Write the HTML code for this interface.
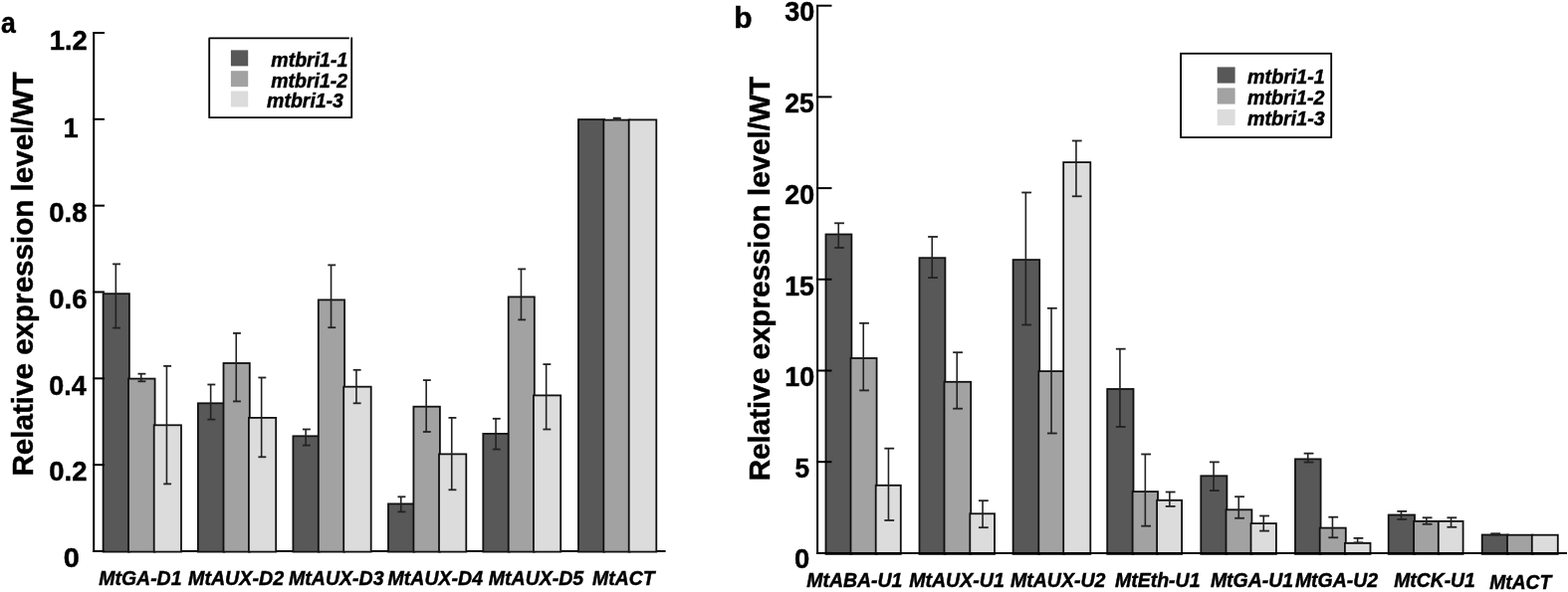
<!DOCTYPE html>
<html><head><meta charset="utf-8"><title>Relative expression level</title>
<style>
html,body{margin:0;padding:0;background:#fff;}
body{width:1575px;height:595px;overflow:hidden;}
svg{display:block;}
text{font-family:"Liberation Sans",Arial,sans-serif;fill:#000;stroke:#000;stroke-width:0.45px;}
.b{font-weight:bold;}
.bi{font-weight:bold;font-style:italic;}
</style></head><body>
<svg width="1575" height="595" viewBox="0 0 1575 595">
<rect x="0" y="0" width="1575" height="595" fill="#fff"/>
<line x1="94.20" y1="33.00" x2="94.20" y2="555.00" stroke="#000" stroke-width="2"/>
<line x1="93.20" y1="554.00" x2="668.60" y2="554.00" stroke="#000" stroke-width="2"/>
<rect x="103.60" y="295.20" width="26.30" height="259.40" fill="#585858" stroke="#111" stroke-width="1.8"/>
<rect x="129.00" y="380.60" width="26.60" height="174.00" fill="#a2a2a2" stroke="#111" stroke-width="1.8"/>
<rect x="154.70" y="427.30" width="27.30" height="127.30" fill="#dcdcdc" stroke="#111" stroke-width="1.8"/>
<line x1="116.35" y1="265.40" x2="116.35" y2="329.60" stroke="#222" stroke-width="1.6"/>
<line x1="113.10" y1="265.40" x2="121.00" y2="265.40" stroke="#222" stroke-width="1.8"/>
<line x1="113.10" y1="329.60" x2="121.00" y2="329.60" stroke="#222" stroke-width="1.8"/>
<line x1="141.75" y1="375.70" x2="141.75" y2="383.30" stroke="#222" stroke-width="1.6"/>
<line x1="138.50" y1="375.70" x2="146.40" y2="375.70" stroke="#222" stroke-width="1.8"/>
<line x1="138.50" y1="383.30" x2="146.40" y2="383.30" stroke="#222" stroke-width="1.8"/>
<line x1="167.45" y1="367.90" x2="167.45" y2="486.40" stroke="#222" stroke-width="1.6"/>
<line x1="164.20" y1="367.90" x2="172.10" y2="367.90" stroke="#222" stroke-width="1.8"/>
<line x1="164.20" y1="486.40" x2="172.10" y2="486.40" stroke="#222" stroke-width="1.8"/>
<rect x="198.90" y="405.30" width="26.50" height="149.30" fill="#585858" stroke="#111" stroke-width="1.8"/>
<rect x="224.50" y="365.00" width="26.30" height="189.60" fill="#a2a2a2" stroke="#111" stroke-width="1.8"/>
<rect x="249.90" y="419.90" width="27.30" height="134.70" fill="#dcdcdc" stroke="#111" stroke-width="1.8"/>
<line x1="211.65" y1="386.50" x2="211.65" y2="421.60" stroke="#222" stroke-width="1.6"/>
<line x1="208.40" y1="386.50" x2="216.30" y2="386.50" stroke="#222" stroke-width="1.8"/>
<line x1="208.40" y1="421.60" x2="216.30" y2="421.60" stroke="#222" stroke-width="1.8"/>
<line x1="237.25" y1="334.90" x2="237.25" y2="403.40" stroke="#222" stroke-width="1.6"/>
<line x1="234.00" y1="334.90" x2="241.90" y2="334.90" stroke="#222" stroke-width="1.8"/>
<line x1="234.00" y1="403.40" x2="241.90" y2="403.40" stroke="#222" stroke-width="1.8"/>
<line x1="262.65" y1="379.50" x2="262.65" y2="459.30" stroke="#222" stroke-width="1.6"/>
<line x1="259.40" y1="379.50" x2="267.30" y2="379.50" stroke="#222" stroke-width="1.8"/>
<line x1="259.40" y1="459.30" x2="267.30" y2="459.30" stroke="#222" stroke-width="1.8"/>
<rect x="294.40" y="438.30" width="26.30" height="116.30" fill="#585858" stroke="#111" stroke-width="1.8"/>
<rect x="319.80" y="301.40" width="26.30" height="253.20" fill="#a2a2a2" stroke="#111" stroke-width="1.8"/>
<rect x="345.20" y="388.70" width="27.50" height="165.90" fill="#dcdcdc" stroke="#111" stroke-width="1.8"/>
<line x1="307.15" y1="431.50" x2="307.15" y2="447.60" stroke="#222" stroke-width="1.6"/>
<line x1="303.90" y1="431.50" x2="311.80" y2="431.50" stroke="#222" stroke-width="1.8"/>
<line x1="303.90" y1="447.60" x2="311.80" y2="447.60" stroke="#222" stroke-width="1.8"/>
<line x1="332.55" y1="266.40" x2="332.55" y2="329.20" stroke="#222" stroke-width="1.6"/>
<line x1="329.30" y1="266.40" x2="337.20" y2="266.40" stroke="#222" stroke-width="1.8"/>
<line x1="329.30" y1="329.20" x2="337.20" y2="329.20" stroke="#222" stroke-width="1.8"/>
<line x1="357.95" y1="371.80" x2="357.95" y2="405.30" stroke="#222" stroke-width="1.6"/>
<line x1="354.70" y1="371.80" x2="362.60" y2="371.80" stroke="#222" stroke-width="1.8"/>
<line x1="354.70" y1="405.30" x2="362.60" y2="405.30" stroke="#222" stroke-width="1.8"/>
<rect x="390.00" y="506.40" width="26.30" height="48.20" fill="#585858" stroke="#111" stroke-width="1.8"/>
<rect x="415.40" y="408.70" width="26.50" height="145.90" fill="#a2a2a2" stroke="#111" stroke-width="1.8"/>
<rect x="441.00" y="456.40" width="27.30" height="98.20" fill="#dcdcdc" stroke="#111" stroke-width="1.8"/>
<line x1="402.75" y1="499.30" x2="402.75" y2="514.40" stroke="#222" stroke-width="1.6"/>
<line x1="399.50" y1="499.30" x2="407.40" y2="499.30" stroke="#222" stroke-width="1.8"/>
<line x1="399.50" y1="514.40" x2="407.40" y2="514.40" stroke="#222" stroke-width="1.8"/>
<line x1="428.15" y1="382.10" x2="428.15" y2="434.00" stroke="#222" stroke-width="1.6"/>
<line x1="424.90" y1="382.10" x2="432.80" y2="382.10" stroke="#222" stroke-width="1.8"/>
<line x1="424.90" y1="434.00" x2="432.80" y2="434.00" stroke="#222" stroke-width="1.8"/>
<line x1="453.75" y1="419.90" x2="453.75" y2="492.30" stroke="#222" stroke-width="1.6"/>
<line x1="450.50" y1="419.90" x2="458.40" y2="419.90" stroke="#222" stroke-width="1.8"/>
<line x1="450.50" y1="492.30" x2="458.40" y2="492.30" stroke="#222" stroke-width="1.8"/>
<rect x="485.30" y="435.90" width="26.30" height="118.70" fill="#585858" stroke="#111" stroke-width="1.8"/>
<rect x="510.70" y="298.40" width="26.10" height="256.20" fill="#a2a2a2" stroke="#111" stroke-width="1.8"/>
<rect x="535.90" y="397.40" width="27.30" height="157.20" fill="#dcdcdc" stroke="#111" stroke-width="1.8"/>
<line x1="498.05" y1="420.80" x2="498.05" y2="451.60" stroke="#222" stroke-width="1.6"/>
<line x1="494.80" y1="420.80" x2="502.70" y2="420.80" stroke="#222" stroke-width="1.8"/>
<line x1="494.80" y1="451.60" x2="502.70" y2="451.60" stroke="#222" stroke-width="1.8"/>
<line x1="523.45" y1="270.40" x2="523.45" y2="321.40" stroke="#222" stroke-width="1.6"/>
<line x1="520.20" y1="270.40" x2="528.10" y2="270.40" stroke="#222" stroke-width="1.8"/>
<line x1="520.20" y1="321.40" x2="528.10" y2="321.40" stroke="#222" stroke-width="1.8"/>
<line x1="548.65" y1="366.10" x2="548.65" y2="431.50" stroke="#222" stroke-width="1.6"/>
<line x1="545.40" y1="366.10" x2="553.30" y2="366.10" stroke="#222" stroke-width="1.8"/>
<line x1="545.40" y1="431.50" x2="553.30" y2="431.50" stroke="#222" stroke-width="1.8"/>
<rect x="581.00" y="120.10" width="26.20" height="434.50" fill="#585858" stroke="#111" stroke-width="1.8"/>
<rect x="606.30" y="120.60" width="26.30" height="434.00" fill="#a2a2a2" stroke="#111" stroke-width="1.8"/>
<rect x="631.70" y="120.40" width="27.60" height="434.20" fill="#dcdcdc" stroke="#111" stroke-width="1.8"/>
<line x1="619.05" y1="118.70" x2="619.05" y2="120.10" stroke="#222" stroke-width="1.6"/>
<line x1="615.80" y1="118.70" x2="623.70" y2="118.70" stroke="#222" stroke-width="1.8"/>
<line x1="615.80" y1="120.10" x2="623.70" y2="120.10" stroke="#222" stroke-width="1.8"/>
<line x1="93.20" y1="554.00" x2="105.00" y2="554.00" stroke="#000" stroke-width="2"/>
<line x1="93.20" y1="467.17" x2="105.00" y2="467.17" stroke="#000" stroke-width="2"/>
<line x1="93.20" y1="380.33" x2="105.00" y2="380.33" stroke="#000" stroke-width="2"/>
<line x1="93.20" y1="293.50" x2="105.00" y2="293.50" stroke="#000" stroke-width="2"/>
<line x1="93.20" y1="206.67" x2="105.00" y2="206.67" stroke="#000" stroke-width="2"/>
<line x1="93.20" y1="119.83" x2="105.00" y2="119.83" stroke="#000" stroke-width="2"/>
<line x1="93.20" y1="33.00" x2="105.00" y2="33.00" stroke="#000" stroke-width="2"/>
<line x1="821.10" y1="5.60" x2="821.10" y2="556.90" stroke="#000" stroke-width="2"/>
<rect x="829.50" y="235.50" width="25.90" height="321.40" fill="#585858" stroke="#111" stroke-width="1.8"/>
<rect x="854.50" y="360.00" width="26.10" height="196.90" fill="#a2a2a2" stroke="#111" stroke-width="1.8"/>
<rect x="879.70" y="487.80" width="25.10" height="69.10" fill="#dcdcdc" stroke="#111" stroke-width="1.8"/>
<line x1="842.25" y1="224.30" x2="842.25" y2="249.00" stroke="#222" stroke-width="1.6"/>
<line x1="838.15" y1="224.30" x2="847.95" y2="224.30" stroke="#222" stroke-width="1.8"/>
<line x1="838.15" y1="249.00" x2="847.95" y2="249.00" stroke="#222" stroke-width="1.8"/>
<line x1="867.25" y1="324.80" x2="867.25" y2="392.40" stroke="#222" stroke-width="1.6"/>
<line x1="863.15" y1="324.80" x2="872.95" y2="324.80" stroke="#222" stroke-width="1.8"/>
<line x1="863.15" y1="392.40" x2="872.95" y2="392.40" stroke="#222" stroke-width="1.8"/>
<line x1="892.45" y1="450.70" x2="892.45" y2="523.00" stroke="#222" stroke-width="1.6"/>
<line x1="888.35" y1="450.70" x2="898.15" y2="450.70" stroke="#222" stroke-width="1.8"/>
<line x1="888.35" y1="523.00" x2="898.15" y2="523.00" stroke="#222" stroke-width="1.8"/>
<rect x="923.50" y="259.20" width="25.90" height="297.70" fill="#585858" stroke="#111" stroke-width="1.8"/>
<rect x="948.50" y="383.80" width="26.70" height="173.10" fill="#a2a2a2" stroke="#111" stroke-width="1.8"/>
<rect x="974.30" y="516.30" width="24.70" height="40.60" fill="#dcdcdc" stroke="#111" stroke-width="1.8"/>
<line x1="936.25" y1="238.00" x2="936.25" y2="279.10" stroke="#222" stroke-width="1.6"/>
<line x1="932.15" y1="238.00" x2="941.95" y2="238.00" stroke="#222" stroke-width="1.8"/>
<line x1="932.15" y1="279.10" x2="941.95" y2="279.10" stroke="#222" stroke-width="1.8"/>
<line x1="961.25" y1="354.20" x2="961.25" y2="410.70" stroke="#222" stroke-width="1.6"/>
<line x1="957.15" y1="354.20" x2="966.95" y2="354.20" stroke="#222" stroke-width="1.8"/>
<line x1="957.15" y1="410.70" x2="966.95" y2="410.70" stroke="#222" stroke-width="1.8"/>
<line x1="987.05" y1="503.20" x2="987.05" y2="530.20" stroke="#222" stroke-width="1.6"/>
<line x1="982.95" y1="503.20" x2="992.75" y2="503.20" stroke="#222" stroke-width="1.8"/>
<line x1="982.95" y1="530.20" x2="992.75" y2="530.20" stroke="#222" stroke-width="1.8"/>
<rect x="1017.60" y="261.10" width="26.60" height="295.80" fill="#585858" stroke="#111" stroke-width="1.8"/>
<rect x="1043.30" y="373.10" width="25.80" height="183.80" fill="#a2a2a2" stroke="#111" stroke-width="1.8"/>
<rect x="1068.20" y="163.10" width="27.10" height="393.80" fill="#dcdcdc" stroke="#111" stroke-width="1.8"/>
<line x1="1030.35" y1="193.50" x2="1030.35" y2="326.50" stroke="#222" stroke-width="1.6"/>
<line x1="1026.25" y1="193.50" x2="1036.05" y2="193.50" stroke="#222" stroke-width="1.8"/>
<line x1="1026.25" y1="326.50" x2="1036.05" y2="326.50" stroke="#222" stroke-width="1.8"/>
<line x1="1056.05" y1="309.80" x2="1056.05" y2="435.50" stroke="#222" stroke-width="1.6"/>
<line x1="1051.95" y1="309.80" x2="1061.75" y2="309.80" stroke="#222" stroke-width="1.8"/>
<line x1="1051.95" y1="435.50" x2="1061.75" y2="435.50" stroke="#222" stroke-width="1.8"/>
<line x1="1080.95" y1="141.50" x2="1080.95" y2="197.30" stroke="#222" stroke-width="1.6"/>
<line x1="1076.85" y1="141.50" x2="1086.65" y2="141.50" stroke="#222" stroke-width="1.8"/>
<line x1="1076.85" y1="197.30" x2="1086.65" y2="197.30" stroke="#222" stroke-width="1.8"/>
<rect x="1112.20" y="391.00" width="26.30" height="165.90" fill="#585858" stroke="#111" stroke-width="1.8"/>
<rect x="1137.60" y="494.10" width="25.40" height="62.80" fill="#a2a2a2" stroke="#111" stroke-width="1.8"/>
<rect x="1162.10" y="502.80" width="25.00" height="54.10" fill="#dcdcdc" stroke="#111" stroke-width="1.8"/>
<line x1="1124.95" y1="350.70" x2="1124.95" y2="429.00" stroke="#222" stroke-width="1.6"/>
<line x1="1120.85" y1="350.70" x2="1130.65" y2="350.70" stroke="#222" stroke-width="1.8"/>
<line x1="1120.85" y1="429.00" x2="1130.65" y2="429.00" stroke="#222" stroke-width="1.8"/>
<line x1="1150.35" y1="456.50" x2="1150.35" y2="528.70" stroke="#222" stroke-width="1.6"/>
<line x1="1146.25" y1="456.50" x2="1156.05" y2="456.50" stroke="#222" stroke-width="1.8"/>
<line x1="1146.25" y1="528.70" x2="1156.05" y2="528.70" stroke="#222" stroke-width="1.8"/>
<line x1="1174.85" y1="494.50" x2="1174.85" y2="508.90" stroke="#222" stroke-width="1.6"/>
<line x1="1170.75" y1="494.50" x2="1180.55" y2="494.50" stroke="#222" stroke-width="1.8"/>
<line x1="1170.75" y1="508.90" x2="1180.55" y2="508.90" stroke="#222" stroke-width="1.8"/>
<rect x="1206.30" y="478.30" width="26.10" height="78.60" fill="#585858" stroke="#111" stroke-width="1.8"/>
<rect x="1231.50" y="512.30" width="25.90" height="44.60" fill="#a2a2a2" stroke="#111" stroke-width="1.8"/>
<rect x="1256.50" y="526.10" width="25.40" height="30.80" fill="#dcdcdc" stroke="#111" stroke-width="1.8"/>
<line x1="1219.05" y1="464.40" x2="1219.05" y2="493.10" stroke="#222" stroke-width="1.6"/>
<line x1="1214.95" y1="464.40" x2="1224.75" y2="464.40" stroke="#222" stroke-width="1.8"/>
<line x1="1214.95" y1="493.10" x2="1224.75" y2="493.10" stroke="#222" stroke-width="1.8"/>
<line x1="1244.25" y1="499.20" x2="1244.25" y2="520.80" stroke="#222" stroke-width="1.6"/>
<line x1="1240.15" y1="499.20" x2="1249.95" y2="499.20" stroke="#222" stroke-width="1.8"/>
<line x1="1240.15" y1="520.80" x2="1249.95" y2="520.80" stroke="#222" stroke-width="1.8"/>
<line x1="1269.25" y1="518.50" x2="1269.25" y2="533.60" stroke="#222" stroke-width="1.6"/>
<line x1="1265.15" y1="518.50" x2="1274.95" y2="518.50" stroke="#222" stroke-width="1.8"/>
<line x1="1265.15" y1="533.60" x2="1274.95" y2="533.60" stroke="#222" stroke-width="1.8"/>
<rect x="1301.00" y="461.40" width="25.60" height="95.50" fill="#585858" stroke="#111" stroke-width="1.8"/>
<rect x="1325.70" y="530.60" width="26.10" height="26.30" fill="#a2a2a2" stroke="#111" stroke-width="1.8"/>
<rect x="1350.90" y="545.90" width="25.60" height="11.00" fill="#dcdcdc" stroke="#111" stroke-width="1.8"/>
<line x1="1313.75" y1="455.70" x2="1313.75" y2="464.60" stroke="#222" stroke-width="1.6"/>
<line x1="1309.65" y1="455.70" x2="1319.45" y2="455.70" stroke="#222" stroke-width="1.8"/>
<line x1="1309.65" y1="464.60" x2="1319.45" y2="464.60" stroke="#222" stroke-width="1.8"/>
<line x1="1338.45" y1="519.70" x2="1338.45" y2="540.30" stroke="#222" stroke-width="1.6"/>
<line x1="1334.35" y1="519.70" x2="1344.15" y2="519.70" stroke="#222" stroke-width="1.8"/>
<line x1="1334.35" y1="540.30" x2="1344.15" y2="540.30" stroke="#222" stroke-width="1.8"/>
<line x1="1363.65" y1="540.90" x2="1363.65" y2="545.30" stroke="#222" stroke-width="1.6"/>
<line x1="1359.55" y1="540.90" x2="1369.35" y2="540.90" stroke="#222" stroke-width="1.8"/>
<line x1="1359.55" y1="545.30" x2="1369.35" y2="545.30" stroke="#222" stroke-width="1.8"/>
<rect x="1394.70" y="517.50" width="26.30" height="39.40" fill="#585858" stroke="#111" stroke-width="1.8"/>
<rect x="1420.10" y="523.90" width="25.60" height="33.00" fill="#a2a2a2" stroke="#111" stroke-width="1.8"/>
<rect x="1444.80" y="523.90" width="24.80" height="33.00" fill="#dcdcdc" stroke="#111" stroke-width="1.8"/>
<line x1="1407.45" y1="513.90" x2="1407.45" y2="522.00" stroke="#222" stroke-width="1.6"/>
<line x1="1403.35" y1="513.90" x2="1413.15" y2="513.90" stroke="#222" stroke-width="1.8"/>
<line x1="1403.35" y1="522.00" x2="1413.15" y2="522.00" stroke="#222" stroke-width="1.8"/>
<line x1="1432.85" y1="520.30" x2="1432.85" y2="526.80" stroke="#222" stroke-width="1.6"/>
<line x1="1428.75" y1="520.30" x2="1438.55" y2="520.30" stroke="#222" stroke-width="1.8"/>
<line x1="1428.75" y1="526.80" x2="1438.55" y2="526.80" stroke="#222" stroke-width="1.8"/>
<line x1="1457.55" y1="520.30" x2="1457.55" y2="529.80" stroke="#222" stroke-width="1.6"/>
<line x1="1453.45" y1="520.30" x2="1463.25" y2="520.30" stroke="#222" stroke-width="1.8"/>
<line x1="1453.45" y1="529.80" x2="1463.25" y2="529.80" stroke="#222" stroke-width="1.8"/>
<rect x="1488.70" y="537.50" width="26.20" height="19.40" fill="#585858" stroke="#111" stroke-width="1.8"/>
<rect x="1514.00" y="537.70" width="25.70" height="19.20" fill="#a2a2a2" stroke="#111" stroke-width="1.8"/>
<rect x="1538.80" y="537.70" width="26.00" height="19.20" fill="#dcdcdc" stroke="#111" stroke-width="1.8"/>
<line x1="1501.45" y1="536.30" x2="1501.45" y2="537.50" stroke="#222" stroke-width="1.6"/>
<line x1="1497.35" y1="536.30" x2="1507.15" y2="536.30" stroke="#222" stroke-width="1.8"/>
<line x1="1497.35" y1="537.50" x2="1507.15" y2="537.50" stroke="#222" stroke-width="1.8"/>
<line x1="821.10" y1="555.90" x2="1574.00" y2="555.90" stroke="#000" stroke-width="2"/>
<line x1="820.10" y1="555.90" x2="835.50" y2="555.90" stroke="#000" stroke-width="2"/>
<line x1="820.10" y1="464.20" x2="835.50" y2="464.20" stroke="#000" stroke-width="2"/>
<line x1="820.10" y1="372.50" x2="835.50" y2="372.50" stroke="#000" stroke-width="2"/>
<line x1="820.10" y1="280.80" x2="835.50" y2="280.80" stroke="#000" stroke-width="2"/>
<line x1="820.10" y1="189.10" x2="835.50" y2="189.10" stroke="#000" stroke-width="2"/>
<line x1="820.10" y1="97.40" x2="835.50" y2="97.40" stroke="#000" stroke-width="2"/>
<line x1="820.10" y1="5.70" x2="835.50" y2="5.70" stroke="#000" stroke-width="2"/>
<path d="M350.8,38.4 H210.2 V118.2 H353.2 V37.6" fill="#fff" stroke="#000" stroke-width="1.8" stroke-linejoin="round"/>
<rect x="231.9" y="50.4" width="17.3" height="16" fill="#585858"/>
<rect x="231.9" y="71.2" width="17.3" height="16" fill="#a2a2a2"/>
<rect x="231.9" y="91.5" width="17.3" height="16" fill="#dcdcdc"/>
<rect x="1186.10" y="53.80" width="151.10" height="84.30" fill="#fff" stroke="#000" stroke-width="1.8"/>
<rect x="1222.7" y="67.4" width="17.9" height="16.2" fill="#585858"/>
<rect x="1222.7" y="88.4" width="17.9" height="16.2" fill="#a2a2a2"/>
<rect x="1222.7" y="109.9" width="17.9" height="16.2" fill="#dcdcdc"/>
<text transform="translate(272.31,67.21) scale(1.012,1)" font-size="19.30" class="bi">mtbri1-1</text>
<text transform="translate(272.31,87.51) scale(1.009,1)" font-size="19.30" class="bi">mtbri1-2</text>
<text transform="translate(268.11,108.11) scale(1.010,1)" font-size="19.30" class="bi">mtbri1-3</text>
<text transform="translate(1253.11,83.61) scale(1.019,1)" font-size="19.30" class="bi">mtbri1-1</text>
<text transform="translate(1253.11,105.01) scale(1.015,1)" font-size="19.30" class="bi">mtbri1-2</text>
<text transform="translate(1253.11,126.41) scale(1.018,1)" font-size="19.30" class="bi">mtbri1-3</text>
<text transform="translate(63.74,570.32) scale(1.026,1)" font-size="28.20" class="b">0</text>
<text transform="translate(49.30,482.92) scale(0.975,1)" font-size="28.20" class="b">0.2</text>
<text transform="translate(49.32,396.92) scale(0.954,1)" font-size="28.20" class="b">0.4</text>
<text transform="translate(49.30,309.62) scale(0.975,1)" font-size="28.20" class="b">0.6</text>
<text transform="translate(49.30,222.82) scale(0.975,1)" font-size="28.20" class="b">0.8</text>
<text transform="translate(49.65,49.60) scale(0.973,1)" font-size="28.20" class="b">1.2</text>
<text transform="translate(63.53,138.00) scale(0.970,1)" font-size="28.20" class="b">1</text>
<text transform="translate(798.10,571.32) scale(0.973,1)" font-size="28.20" class="b">0</text>
<text transform="translate(798.51,480.12) scale(0.929,1)" font-size="28.20" class="b">5</text>
<text transform="translate(788.18,387.92) scale(0.955,1)" font-size="28.20" class="b">10</text>
<text transform="translate(788.20,296.62) scale(0.946,1)" font-size="28.20" class="b">15</text>
<text transform="translate(788.30,204.62) scale(0.951,1)" font-size="28.20" class="b">20</text>
<text transform="translate(788.30,112.62) scale(0.942,1)" font-size="28.20" class="b">25</text>
<text transform="translate(788.16,21.22) scale(0.956,1)" font-size="28.20" class="b">30</text>
<text transform="translate(99.21,587.50) scale(0.979,1)" font-size="19.90" class="bi">MtGA-D1</text>
<text transform="translate(189.01,587.50) scale(0.988,1)" font-size="19.90" class="bi">MtAUX-D2</text>
<text transform="translate(290.11,587.50) scale(0.981,1)" font-size="19.90" class="bi">MtAUX-D3</text>
<text transform="translate(389.61,587.50) scale(0.981,1)" font-size="19.90" class="bi">MtAUX-D4</text>
<text transform="translate(490.81,587.50) scale(0.980,1)" font-size="19.90" class="bi">MtAUX-D5</text>
<text transform="translate(595.11,587.50) scale(0.976,1)" font-size="19.90" class="bi">MtACT</text>
<text transform="translate(810.21,590.20) scale(0.978,1)" font-size="19.90" class="bi">MtABA-U1</text>
<text transform="translate(913.21,590.20) scale(0.983,1)" font-size="19.90" class="bi">MtAUX-U1</text>
<text transform="translate(1014.91,590.20) scale(0.983,1)" font-size="19.90" class="bi">MtAUX-U2</text>
<text transform="translate(1119.91,590.20) scale(0.981,1)" font-size="19.90" class="bi">MtEth-U1</text>
<text transform="translate(1215.91,590.20) scale(0.978,1)" font-size="19.90" class="bi">MtGA-U1</text>
<text transform="translate(1300.91,590.20) scale(0.978,1)" font-size="19.90" class="bi">MtGA-U2</text>
<text transform="translate(1400.21,589.80) scale(0.971,1)" font-size="19.90" class="bi">MtCK-U1</text>
<text transform="translate(1496.22,591.50) scale(0.967,1)" font-size="19.90" class="bi">MtACT</text>
<text transform="translate(33.0,478.6) rotate(-90)" font-size="29.6" class="b">Relative expression level/WT</text>
<text transform="translate(773.0,483.3) rotate(-90)" font-size="29.6" class="b">Relative expression level/WT</text>
<text transform="translate(1.10,33.41) scale(0.902,1)" font-size="29.50" class="b">a</text>
<text transform="translate(737.30,27.50) scale(1.024,1)" font-size="29.30" class="b">b</text>
</svg>
</body></html>
